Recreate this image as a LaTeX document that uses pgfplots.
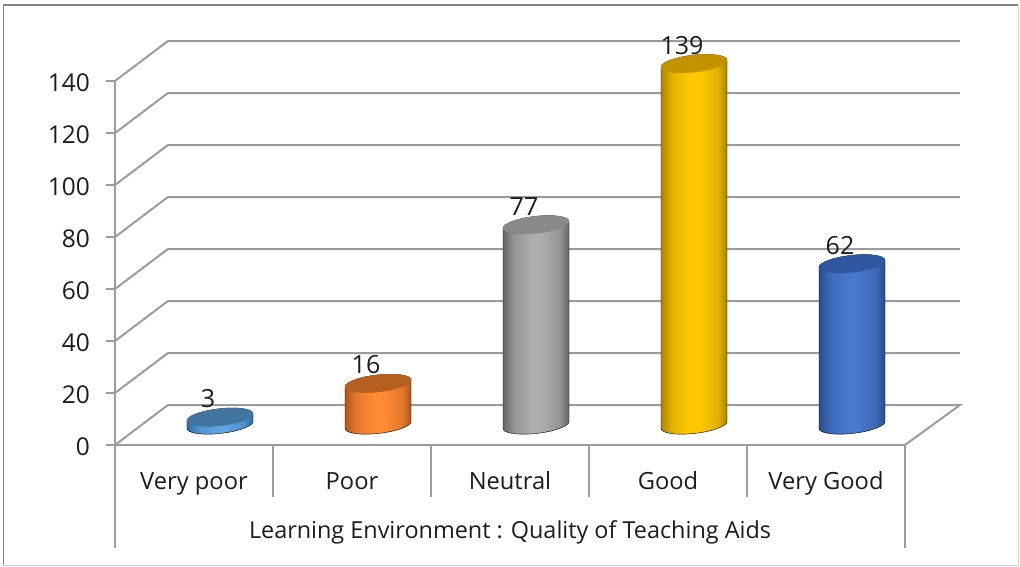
\documentclass[border=0pt]{standalone}
\usepackage{fontspec}
\setmainfont{Open Sans}
\usepackage{pgfplots}
\pgfplotsset{compat=1.18}
\definecolor{gridc}{HTML}{9C9C9C}
\definecolor{txt}{HTML}{1C1C1C}
% one plot mark per bar colour: side of the cylinder, shaded, then its cap. 1pt = 1 px of the reference
\newcommand\declcyl[4]{%
  \pgfdeclarehorizontalshading{#1sh}{100bp}{color(0bp)=(#2); color(25bp)=(#2); color(33bp)=(#3!65!#2); color(47bp)=(#3); color(54bp)=(#3); color(68bp)=(#3!65!#2); color(75bp)=(#2); color(100bp)=(#2)}%
  \pgfdeclareplotmark{#1}{%
    \pgftransformshift{\pgfpoint{26pt}{20pt}}%
    \pgftransformcm{1}{0.105}{0}{1}{\pgfpointorigin}%
    \path[shading=#1sh] (-33pt,0pt) -- (-33pt,-\cylh pt)
      arc[start angle=180,end angle=360,x radius=33pt,y radius=8.5pt]
      -- (33pt,0pt) arc[start angle=0,end angle=180,x radius=33pt,y radius=8.5pt] -- cycle;
    \fill[#4] (0pt,0pt) ellipse[x radius=33pt,y radius=8.5pt];}}
\definecolor{aD}{HTML}{2F6CA8}\definecolor{aL}{HTML}{5FA3E0}\definecolor{aT}{HTML}{41749F}
\definecolor{bD}{HTML}{AE5518}\definecolor{bL}{HTML}{FF8A36}\definecolor{bT}{HTML}{B6601F}
\definecolor{cD}{HTML}{666666}\definecolor{cL}{HTML}{AEAEAE}\definecolor{cT}{HTML}{8A8A8A}
\definecolor{dD}{HTML}{AE8400}\definecolor{dL}{HTML}{FFC800}\definecolor{dT}{HTML}{C29300}
\definecolor{eD}{HTML}{2A4D8C}\definecolor{eL}{HTML}{4878CC}\definecolor{eT}{HTML}{2F569E}
\declcyl{cylA}{aD}{aL}{aT}
\declcyl{cylB}{bD}{bL}{bT}
\declcyl{cylC}{cD}{cL}{cT}
\declcyl{cylD}{dD}{dL}{dT}
\declcyl{cylE}{eD}{eL}{eT}
% the mark's shift stays in force for the label, hence the smaller offset here
\pgfplotsset{cyl/.style={only marks,scatter,mark=#1,
  visualization depends on={\thisrow{v}*2.6 \as \cylh},
  nodes near coords,
  every node near coord/.append style={anchor=center,xshift=-12pt,yshift=18.5pt,inner sep=0pt,text=txt,
    font=\fontsize{25}{29}\selectfont}}}
\begin{document}
\begin{tikzpicture}
\path[use as bounding box] (-115pt,-122pt) rectangle (905pt,445pt);
\draw[line width=1.3pt,color=black!48] (-111.5pt,-120pt) -- (-111.5pt,440pt) -- (902.5pt,440pt);
\draw[line width=1.3pt,color=black!18] (-111.5pt,-120.5pt) -- (903.5pt,-120.5pt) -- (903.5pt,440pt);
\begin{axis}[
  scale only axis,width=790pt,height=364pt,
  xmin=-.5,xmax=4.5,ymin=0,ymax=140,
  clip=false,
  axis x line=bottom,axis y line=left,
  axis line style={gridc,-,line width=1.8pt},
  xtick={0,1,2,3,4},
  xticklabels={Very poor,Poor,Neutral,Good,Very Good},
  ytick={0,20,...,140},
  tick align=outside,
  major tick length=9pt,
  x tick style={draw=none},
  y tick style={gridc,line width=1.3pt},
  tick label style={text=txt},
  /pgf/number format/assume math mode=true,
  xticklabel style={font=\fontsize{23.7}{27}\selectfont,anchor=center,yshift=-29pt,text height=17pt,text depth=5pt,inner sep=0pt},
  yticklabel style={font=\fontsize{24.5}{29}\selectfont,anchor=east,xshift=-16pt,yshift=-2pt,inner sep=0pt},
  xlabel={Learning Environment : Quality of Teaching Aids},
  xlabel style={at={(axis description cs:0.5,0)},anchor=center,yshift=-87pt,inner sep=0pt,text=txt,
    font=\fontsize{23.4}{27}\selectfont},
]
% side and back wall
\addplot[gridc,line width=2pt] coordinates {(-.5,140)(-.1646,155.38)(4.848,155.38)};
\addplot[gridc,line width=2pt] coordinates {(-.5,120)(-.1646,135.38)(4.848,135.38)};
\addplot[gridc,line width=2pt] coordinates {(-.5,100)(-.1646,115.38)(4.848,115.38)};
\addplot[gridc,line width=2pt] coordinates {(-.5,80)(-.1646,95.38)(4.848,95.38)};
\addplot[gridc,line width=2pt] coordinates {(-.5,60)(-.1646,75.38)(4.848,75.38)};
\addplot[gridc,line width=2pt] coordinates {(-.5,40)(-.1646,55.38)(4.848,55.38)};
\addplot[gridc,line width=2pt] coordinates {(-.5,20)(-.1646,35.38)(4.848,35.38)};
\addplot[gridc,line width=2pt] coordinates {(-.5,0)(-.1646,15.38)(4.848,15.38)(4.5,0)};
% category separators
\addplot[gridc,line width=1.3pt] coordinates {(-.5,0)(-.5,-39.6)};
\addplot[gridc,line width=1.3pt] coordinates {(.5,0)(.5,-20)};
\addplot[gridc,line width=1.3pt] coordinates {(1.5,0)(1.5,-20)};
\addplot[gridc,line width=1.3pt] coordinates {(2.5,0)(2.5,-20)};
\addplot[gridc,line width=1.3pt] coordinates {(3.5,0)(3.5,-20)};
\addplot[gridc,line width=1.3pt] coordinates {(4.5,0)(4.5,-39.6)};
% bars
\addplot[cyl=cylA] table {
x v
0 3
};
\addplot[cyl=cylB] table {
x v
1 16
};
\addplot[cyl=cylC] table {
x v
2 77
};
\addplot[cyl=cylD] table {
x v
3 139
};
\addplot[cyl=cylE] table {
x v
4 62
};
\end{axis}
\end{tikzpicture}
\end{document}
